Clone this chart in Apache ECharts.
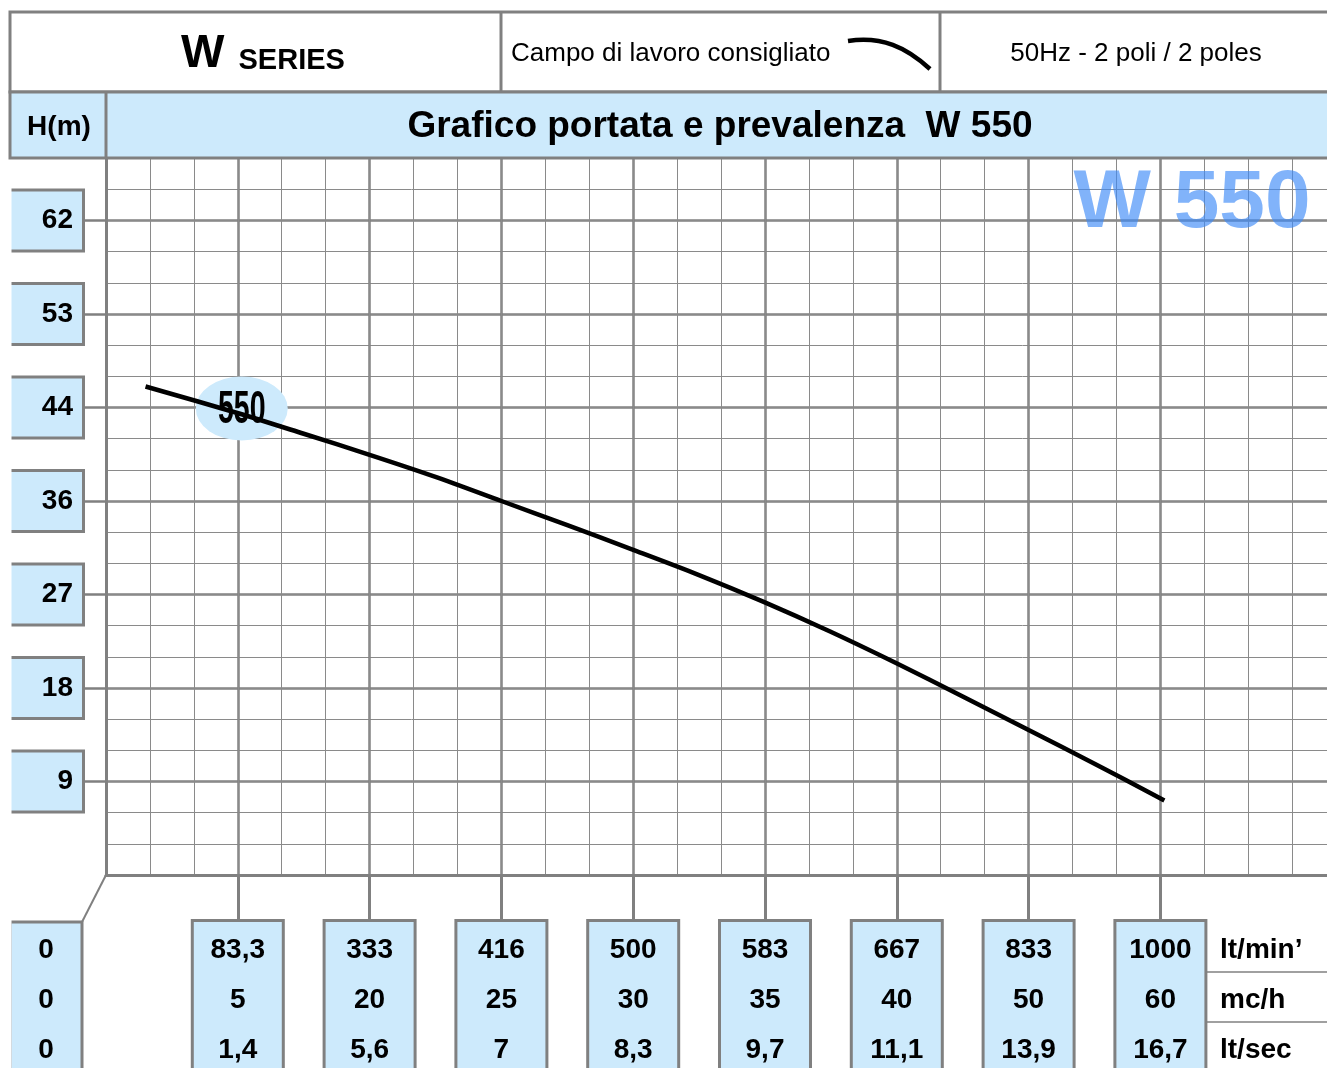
<!DOCTYPE html>
<html>
  <head>
    <meta charset="utf-8" />
    <script src="https://cdn.jsdelivr.net/npm/echarts@6/dist/echarts.min.js"></script>
    <style>html, body { margin: 0; padding: 0; background: #fff; }</style>
  </head>
  <body>
    <div id="main" style="width: 1327px;height:1068px;"></div>
    <script type="text/javascript">
      // prevalenza: one major step of the grid in metres
      var STEP = 8.9;
      var hLabels = ['9', '18', '27', '36', '44', '53', '62'];

      // portata: one column per vertical line of the grid
      var lpm = ['0', '83,3', '333', '416', '500', '583', '667', '833', '1000'];
      var mch = ['0', '5', '20', '25', '30', '35', '40', '50', '60'];
      var lps = ['0', '1,4', '5,6', '7', '8,3', '9,7', '11,1', '13,9', '16,7'];
      var units = ['lt/min\u2019', 'mc/h', 'lt/sec'];

      // curva W 550: x = position on the portata columns, y = H (m)
      var curveX = [0.30, 0.99, 1.50, 2.00, 2.50, 3.00, 3.50, 3.99, 4.49, 4.99, 5.49, 5.99, 6.50, 7.00, 7.50, 8.03];
      var curveH = [46.5, 44.0, 42.0, 40.0, 37.9, 35.6, 33.3, 31.0, 28.6, 26.0, 23.2, 20.2, 17.0, 13.8, 10.6, 7.1];
      var curveName = '550';
      var curveTag = [1.03, 44.4];

      var FONT = "'Liberation Sans', Arial, sans-serif";
      var BLUE = '#cdeafc';
      var GRAY = '#808080';

      var myChart = echarts.init(document.getElementById('main'));

      var yVals = hLabels.map(function (l, i) { return (i + 1) * STEP; });
      var xVals = [];
      for (var i = 1; i < lpm.length; i++) xVals.push(i);

      var option = {
        animation: false,
        grid: { left: 106, right: -97, top: 127, bottom: 193, containLabel: false, outerBoundsMode: 'none' },
        xAxis: [
          {
            type: 'value', min: 0, max: 10, interval: 1,
            axisLine: { show: true, lineStyle: { color: GRAY, width: 3 } },
            axisTick: { show: true, customValues: xVals, length: 47, lineStyle: { color: GRAY, width: 3 } },
            axisLabel: {
              customValues: xVals, margin: 47,
              formatter: function (v) {
                var k = Math.round(v);
                return lpm[k] + '\n' + mch[k] + '\n' + lps[k];
              },
              fontFamily: FONT, fontWeight: 'bold', fontSize: 28, color: '#000',
              lineHeight: 50, width: 84, align: 'center', verticalAlign: 'top',
              backgroundColor: BLUE, borderColor: GRAY, borderWidth: 3, padding: [3, 2, 0, 2]
            },
            splitLine: { show: true, lineStyle: { color: GRAY, width: 2.5 } }
          },
          {
            type: 'value', min: 0, max: 10, interval: 1 / 3, position: 'top',
            axisLine: { show: false }, axisTick: { show: false }, axisLabel: { show: false },
            splitLine: { show: true, lineStyle: { color: '#8a8a8a', width: 1 } }
          }
        ],
        yAxis: [
          {
            type: 'value', min: 0, max: 8 * STEP, interval: STEP,
            axisLine: { show: true, lineStyle: { color: GRAY, width: 3 } },
            axisTick: { show: true, customValues: yVals, length: 24, lineStyle: { color: GRAY, width: 2.5 } },
            axisLabel: {
              customValues: yVals, margin: 24,
              formatter: function (v) { return hLabels[Math.round(v / STEP) - 1]; },
              fontFamily: FONT, fontWeight: 'bold', fontSize: 28, color: '#000',
              width: 63, height: 58, lineHeight: 58, align: 'right', verticalAlign: 'middle',
              backgroundColor: BLUE, borderColor: GRAY, borderWidth: 3, padding: [0, 9, 0, 0]
            },
            splitLine: { show: true, lineStyle: { color: GRAY, width: 2.5 } }
          },
          {
            type: 'value', min: 0, max: 8 * STEP, interval: STEP / 3,
            axisLine: { show: false }, axisTick: { show: false }, axisLabel: { show: false },
            splitLine: { show: true, lineStyle: { color: '#8a8a8a', width: 1 } }
          }
        ],
        series: [
          {
            name: curveName,
            type: 'line',
            data: curveX.map(function (x, i) { return [x, curveH[i]]; }),
            smooth: 0.3,
            showSymbol: false,
            lineStyle: { color: '#000', width: 4.5 },
            z: 5,
            markPoint: {
              symbol: 'path://M0,50 A50,50 0 1,1 100,50 A50,50 0 1,1 0,50 Z',
              symbolSize: [92, 64],
              itemStyle: { color: BLUE },
              label: { show: false },
              data: [{ coord: curveTag }]
            }
          }
        ],
        graphic: [
          // header row 1
          { type: 'rect', z: 100, shape: { x: 10, y: 12, width: 1330, height: 80 },
            style: { fill: '#fff', stroke: GRAY, lineWidth: 3 } },
          // header row 2
          { type: 'rect', z: 100, shape: { x: 10, y: 92, width: 1330, height: 66 },
            style: { fill: BLUE, stroke: GRAY, lineWidth: 3 } },
          { type: 'line', z: 101, shape: { x1: 501, y1: 12, x2: 501, y2: 92 }, style: { stroke: GRAY, lineWidth: 3 } },
          { type: 'line', z: 101, shape: { x1: 940, y1: 12, x2: 940, y2: 92 }, style: { stroke: GRAY, lineWidth: 3 } },
          { type: 'line', z: 101, shape: { x1: 106, y1: 92, x2: 106, y2: 158 }, style: { stroke: GRAY, lineWidth: 3 } },
          { type: 'text', z: 102, x: 263, y: 54,
            style: {
              text: '{w|W}{s|SERIES}', align: 'center', verticalAlign: 'middle',
              rich: {
                w: { fontFamily: FONT, fontWeight: 'bold', fontSize: 46, fill: '#000', verticalAlign: 'bottom' },
                s: { fontFamily: FONT, fontWeight: 'bold', fontSize: 29, fill: '#000', verticalAlign: 'bottom',
                     padding: [0, 0, 2, 14] }
              }
            } },
          { type: 'text', z: 102, x: 511, y: 54,
            style: { text: 'Campo di lavoro consigliato', fontFamily: FONT, fontSize: 26, fill: '#000',
                     align: 'left', verticalAlign: 'middle' } },
          { type: 'bezierCurve', z: 102,
            shape: { x1: 848, y1: 41, cpx1: 882, cpy1: 36, cpx2: 906, cpy2: 47, x2: 930, y2: 69 },
            style: { stroke: '#000', lineWidth: 4.5, fill: null } },
          { type: 'text', z: 102, x: 1136, y: 54,
            style: { text: '50Hz - 2 poli / 2 poles', fontFamily: FONT, fontSize: 26, fill: '#000',
                     align: 'center', verticalAlign: 'middle' } },
          { type: 'text', z: 102, x: 59, y: 127,
            style: { text: 'H(m)', fontFamily: FONT, fontWeight: 'bold', fontSize: 28, fill: '#000',
                     align: 'center', verticalAlign: 'middle' } },
          { type: 'text', z: 102, x: 720, y: 127,
            style: { text: 'Grafico portata e prevalenza  W 550', fontFamily: FONT, fontWeight: 'bold', fontSize: 37,
                     fill: '#000', align: 'center', verticalAlign: 'middle' } },
          // watermark
          { type: 'text', z: 50, x: 1192, y: 204,
            style: { text: 'W 550', fontFamily: FONT, fontWeight: 'bold', fontSize: 82, fill: '#3d8af7',
                     opacity: 0.65, align: 'center', verticalAlign: 'middle' } },
          // zero column of the portata scale
          { type: 'line', z: 60, shape: { x1: 82, y1: 922, x2: 106, y2: 875 }, style: { stroke: GRAY, lineWidth: 2 } },
          { type: 'rect', z: 60, shape: { x: 10, y: 922, width: 72, height: 150 },
            style: { fill: BLUE, stroke: GRAY, lineWidth: 3 } },
          { type: 'text', z: 61, x: 46, y: 1000,
            style: { text: lpm[0] + '\n' + mch[0] + '\n' + lps[0], fontFamily: FONT, fontWeight: 'bold',
                     fontSize: 28, lineHeight: 50, fill: '#000', align: 'center', verticalAlign: 'middle' } },
          // label boxes are open on the left
          { type: 'rect', z: 90, shape: { x: 0, y: 160, width: 11.5, height: 910 }, style: { fill: '#fff' } },
          // unit labels
          { type: 'line', z: 60, shape: { x1: 1205, y1: 972, x2: 1330, y2: 972 }, style: { stroke: GRAY, lineWidth: 1.5 } },
          { type: 'line', z: 60, shape: { x1: 1205, y1: 1022, x2: 1330, y2: 1022 }, style: { stroke: GRAY, lineWidth: 1.5 } },
          { type: 'text', z: 61, x: 1220, y: 1000,
            style: { text: units.join('\n'), fontFamily: FONT, fontWeight: 'bold', fontSize: 28, lineHeight: 50,
                     fill: '#000', align: 'left', verticalAlign: 'middle' } }
        ]
      };

      myChart.setOption(option);

      // condensed "550" tag on the curve bubble
      var tagPos = myChart.convertToPixel({ xAxisIndex: 0, yAxisIndex: 0 }, curveTag);
      myChart.setOption({
        graphic: {
          elements: [{
            id: 'curveTag', type: 'text', z: 70,
            x: tagPos[0], y: tagPos[1] + 2, scaleX: 0.62, scaleY: 1,
            style: { text: curveName, fontFamily: FONT, fontWeight: 'bold', fontSize: 46, fill: '#000',
                     align: 'center', verticalAlign: 'middle' }
          }]
        }
      });
    </script>
  </body>
</html>
